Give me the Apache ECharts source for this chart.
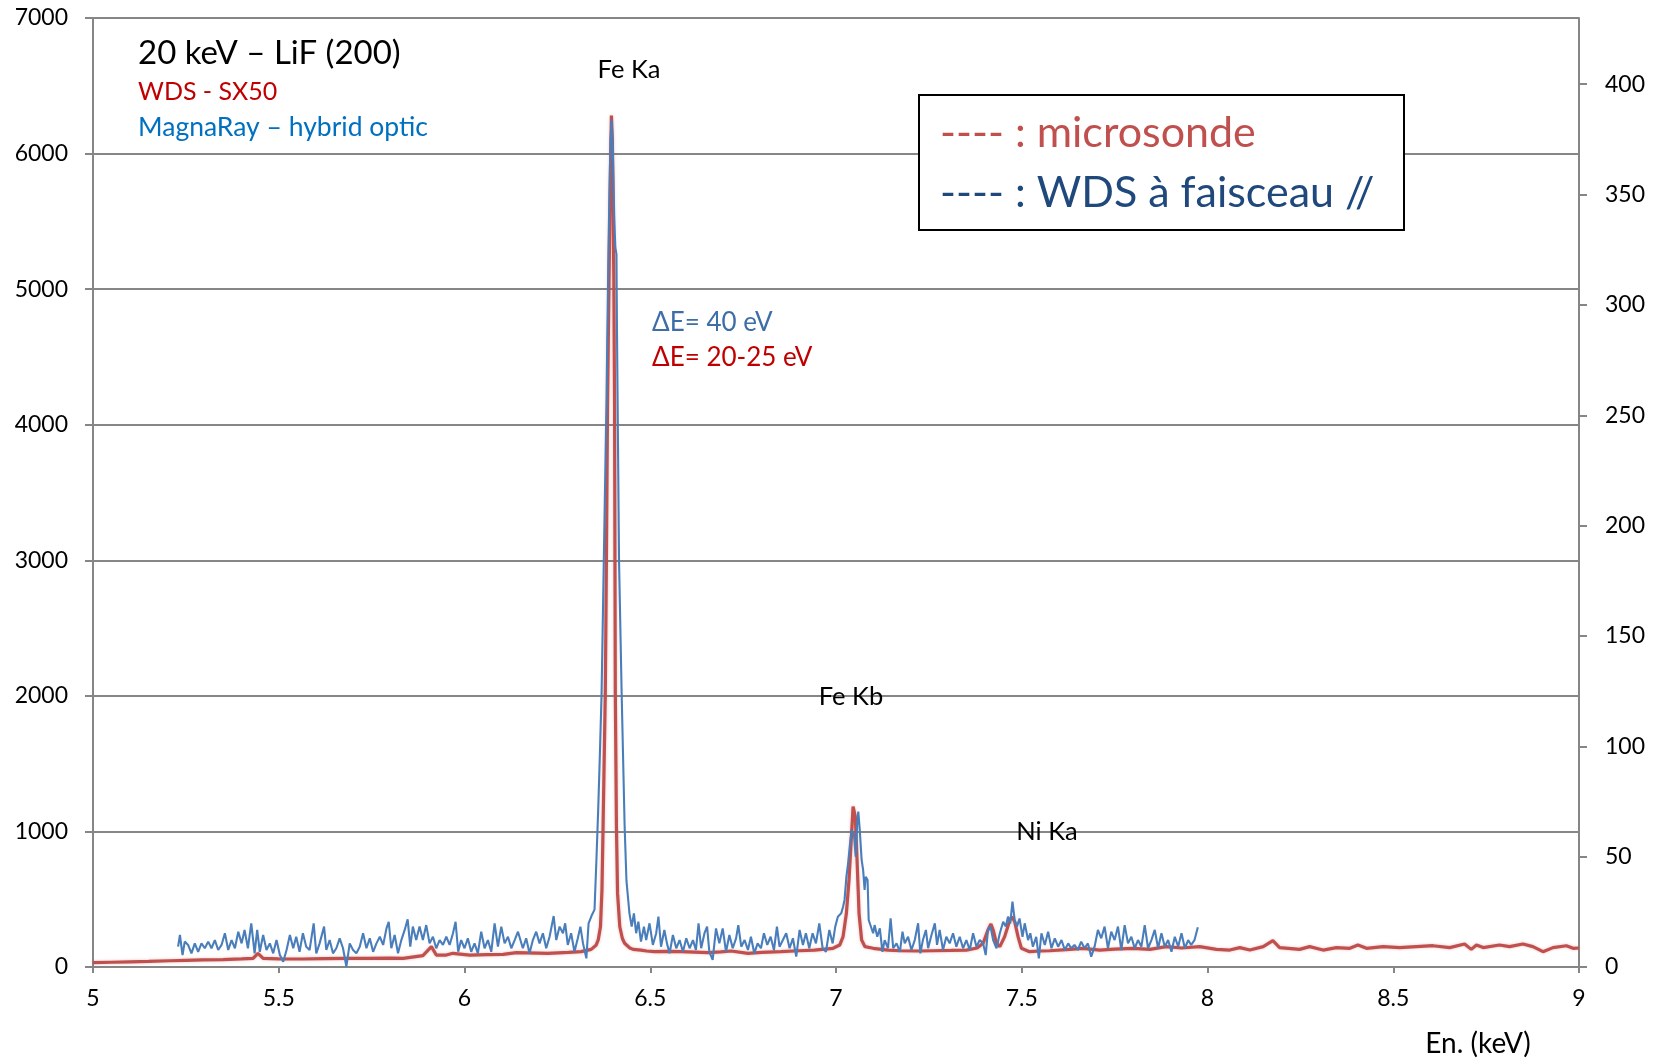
<!DOCTYPE html>
<html><head><meta charset="utf-8">
<script src="https://cdn.jsdelivr.net/npm/echarts@6/dist/echarts.min.js"></script>
<style>html,body{margin:0;padding:0;background:#fff}#c{width:1661px;height:1062px}</style>
</head><body><div id="c"></div>
<script>
// WDS - SX50 (microsonde), left axis counts
const redE = [5.00,5.05,5.10,5.15,5.207,5.25,5.296,5.35,5.40,5.431,5.444,5.458,5.50,5.565,5.62,5.682,5.74,5.80,5.835,5.888,5.911,5.924,5.951,5.969,6.014,6.06,6.104,6.140,6.224,6.28,6.314,6.341,6.354,6.360,6.366,6.370,6.373,6.379,6.382,6.385,6.389,6.393,6.3955,6.398,6.400,6.402,6.404,6.405,6.406,6.409,6.412,6.418,6.425,6.431,6.445,6.454,6.475,6.49,6.511,6.55,6.583,6.62,6.655,6.69,6.718,6.763,6.80,6.852,6.90,6.942,6.992,7.010,7.019,7.028,7.035,7.042,7.046,7.049,7.052,7.057,7.062,7.069,7.078,7.100,7.14,7.172,7.22,7.261,7.31,7.351,7.38,7.396,7.409,7.417,7.423,7.432,7.441,7.454,7.468,7.474,7.481,7.490,7.499,7.521,7.55,7.575,7.62,7.665,7.710,7.75,7.800,7.845,7.889,7.93,7.979,8.024,8.060,8.087,8.114,8.150,8.176,8.194,8.248,8.275,8.311,8.347,8.383,8.405,8.428,8.473,8.517,8.562,8.607,8.652,8.692,8.710,8.724,8.742,8.786,8.813,8.849,8.876,8.903,8.930,8.966,8.984,9.000];
const redV = [32,35,38,41,46,49,52,55,60,64,101,64,60,59,62,64,63,65,64,84,150,88,88,101,88,92,93,106,101,108,113,130,160,200,297,568,1035,2019,3002,4133,5067,5900,6280,6100,5600,5067,4133,3002,2019,1035,543,297,210,175,140,130,125,118,113,115,113,110,106,112,118,101,108,113,120,125,138,162,224,396,642,986,1183,1195,1109,765,396,199,150,138,125,120,118,120,122,125,140,175,273,317,273,175,150,224,347,371,334,224,138,113,118,120,128,138,125,132,138,130,150,140,150,130,125,143,125,150,194,143,130,150,125,143,138,162,138,150,143,150,157,143,170,130,162,143,162,150,170,150,113,143,157,138,140];

// MagnaRay - hybrid optic (WDS à faisceau //), right axis counts
const blueE = [5.229,5.234,5.241,5.247,5.256,5.265,5.274,5.283,5.292,5.301,5.310,5.319,5.328,5.337,5.346,5.355,5.364,5.373,5.382,5.391,5.400,5.408,5.417,5.426,5.435,5.442,5.449,5.458,5.467,5.476,5.485,5.494,5.503,5.512,5.521,5.530,5.539,5.547,5.556,5.565,5.574,5.583,5.594,5.601,5.610,5.622,5.628,5.637,5.646,5.655,5.664,5.673,5.682,5.691,5.700,5.709,5.718,5.727,5.736,5.745,5.754,5.763,5.772,5.781,5.790,5.796,5.803,5.812,5.821,5.830,5.839,5.847,5.854,5.861,5.870,5.879,5.888,5.897,5.906,5.915,5.924,5.933,5.942,5.951,5.960,5.969,5.976,5.983,5.991,6.000,6.009,6.018,6.027,6.036,6.045,6.054,6.063,6.072,6.081,6.090,6.099,6.108,6.117,6.126,6.135,6.144,
6.148,6.157,6.166,6.175,6.184,6.193,6.202,6.211,6.220,6.229,6.240,6.247,6.256,6.265,6.271,6.278,6.287,6.296,6.305,6.312,6.319,6.328,6.334,6.343,6.350,
6.355,6.360,6.364,6.369,6.375,6.382,6.388,6.393,6.396,6.399,6.403,6.406,6.409,6.4105,6.413,6.416,6.423,6.431,6.436,6.444,
6.450,6.456,6.462,6.468,6.475,6.483,6.489,6.498,6.507,6.516,6.522,6.529,6.538,6.545,6.552,6.561,6.570,6.579,6.588,6.597,6.606,6.615,6.623,6.630,6.637,6.646,6.653,6.659,6.668,6.677,6.686,6.695,6.704,6.713,6.722,6.731,6.737,6.745,6.754,6.763,6.771,6.780,6.789,6.798,6.806,6.815,6.824,6.833,6.841,6.848,6.857,6.866,6.875,6.884,6.893,6.902,6.911,6.919,6.928,6.937,6.946,6.955,6.964,6.973,6.982,6.991,6.998,7.005,7.014,7.019,7.023,7.028,7.032,7.037,7.042,7.048,7.053,7.057,7.060,7.064,7.069,7.073,7.077,7.080,7.085,7.088,7.093,7.100,7.104,7.111,7.118,
7.125,7.131,7.140,7.147,7.154,7.163,7.172,7.179,7.185,7.194,7.203,7.212,7.221,7.227,7.234,7.242,7.248,7.257,7.266,7.272,7.279,7.288,7.297,7.306,7.315,7.324,7.333,7.342,7.351,7.360,7.369,7.378,7.387,7.396,7.403,7.409,7.416,7.423,7.432,7.441,7.450,7.457,7.463,7.469,7.475,7.481,7.487,7.494,7.502,7.508,7.517,7.523,7.530,7.539,7.546,7.553,7.562,7.571,7.580,7.589,7.598,7.607,7.616,7.625,7.633,7.642,7.651,7.660,7.669,7.678,7.687,7.696,7.705,7.714,7.723,7.732,7.741,7.750,7.759,7.768,7.777,7.786,7.795,7.804,7.813,7.822,7.831,7.840,7.849,7.858,7.867,7.876,7.885,7.894,7.903,7.912,7.921,7.930,7.939,7.948,7.956,7.965,7.974];
const blueV = [9.2,14.5,5.4,11.5,10.0,6.2,10.7,6.9,10.7,8.5,11.5,8.5,12.2,7.7,10.0,15.3,7.7,12.2,8.5,16.0,10.7,16.8,8.5,19.8,6.2,16.8,6.9,14.5,7.7,10.7,6.2,12.2,5.4,2.4,7.7,14.5,8.5,13.7,6.9,15.3,9.2,7.7,19.8,6.2,10.7,18.3,7.7,12.2,6.2,8.5,13.0,8.5,0.2,10.7,7.7,6.2,9.2,15.3,8.5,13.0,6.9,10.7,13.7,10.0,17.5,20.5,8.5,14.5,6.2,12.2,16.8,21.6,9.2,18.3,12.2,18.3,12.2,19.0,10.7,13.7,8.5,12.2,10.0,13.7,10.0,15.3,20.5,6.9,12.2,8.5,13.0,6.9,10.7,6.2,16.0,8.5,12.2,6.9,19.8,9.2,18.3,10.7,13.7,8.5,12.2,16.0,
16.8,8.5,13.0,6.2,12.2,16.0,10.7,15.3,8.5,13.7,23.1,12.2,18.3,15.3,19.8,10.0,15.3,6.9,13.0,18.3,10.7,3.9,19.8,23.6,26,
48,72,94,124,184,254,330,375,384,372,340,326,323,287,240,184,124,64,39,24.3,
18.3,24.3,15.3,20.5,11.5,18.3,12.2,19.8,10.0,15.3,22.8,9.2,16.8,10.7,6.2,14.5,8.5,12.2,6.9,13.0,8.5,12.2,7.7,19.8,8.5,15.3,18.3,6.9,3.2,17.5,10.7,17.5,6.9,14.5,8.5,13.0,19.0,9.2,12.2,7.7,13.7,6.2,10.7,8.5,15.3,10.0,13.7,7.7,18.3,9.2,12.2,15.3,8.5,13.0,4.7,16.8,10.0,15.3,8.5,15.3,10.7,19.8,8.5,6.9,16.8,10.7,18.3,22.8,24.3,27.3,30.4,40.9,46,54.5,62,60.6,50,65,70.4,62,48.5,44,34.9,40.9,39.4,21.3,22,15.3,19.0,13.7,17.5,
6.9,12.2,8.5,22.0,8.5,10.7,6.9,16.0,10.7,13.7,7.7,12.2,19.8,6.2,12.2,16.8,8.5,14.5,19.8,10.0,16.8,7.7,13.7,10.7,15.3,9.2,13.7,8.5,12.2,7.7,15.3,9.2,12.2,10.7,5.4,16.8,18.3,12.2,8.5,15.3,20.5,18.3,22.8,19.8,29.6,21.3,18.3,22.0,13.7,19.8,12.2,15.3,9.2,13.7,3.9,15.3,10.0,16.0,8.5,13.0,9.2,12.2,7.7,10.7,8.5,10.0,7.7,11.5,8.5,10.7,4.7,9.2,16.8,13.0,18.3,8.5,16.0,12.2,18.3,7.7,19.0,10.7,13.7,8.5,12.2,9.2,19.0,8.5,12.2,16.8,8.5,15.3,9.2,12.2,6.9,13.7,9.2,15.3,8.5,12.2,10.0,12.2,18.0];

const leftTicks = {min: 0, max: 7000, step: 1000};
const rightTicks = {min: 0, max: 430, step: 50};
const xTicks = {min: 5, max: 9, step: 0.5};

const FONT = 'Lato, "Open Sans", sans-serif';
const GRAY = '#868686';
const plain = v => String(v);

const chart = echarts.init(document.getElementById('c'), null, {renderer: 'canvas'});
chart.setOption({
  animation: false,
  backgroundColor: '#fff',
  grid: {left: 93, right: 82, top: 18, bottom: 95},
  xAxis: {
    type: 'value', min: xTicks.min, max: xTicks.max, interval: xTicks.step,
    axisLine: {show: true, onZero: false, lineStyle: {color: GRAY, width: 2}},
    axisTick: {show: true, length: 6, lineStyle: {color: GRAY, width: 2}},
    axisLabel: {fontSize: 23, color: '#000', margin: 20, fontFamily: FONT, formatter: plain},
    splitLine: {show: false}
  },
  yAxis: [{
    type: 'value', position: 'left', min: leftTicks.min, max: leftTicks.max, interval: leftTicks.step,
    axisLine: {show: true, lineStyle: {color: GRAY, width: 2}},
    axisTick: {show: true, length: 8, lineStyle: {color: GRAY, width: 2}},
    axisLabel: {fontSize: 23, color: '#000', margin: 25, fontFamily: FONT, formatter: plain},
    splitLine: {show: true, lineStyle: {color: GRAY, width: 2}}
  }, {
    type: 'value', position: 'right', min: rightTicks.min, max: rightTicks.max, interval: rightTicks.step,
    axisLine: {show: true, lineStyle: {color: GRAY, width: 2}},
    axisTick: {show: true, length: 8, lineStyle: {color: GRAY, width: 2}},
    axisLabel: {fontSize: 23, color: '#000', margin: 26, fontFamily: FONT, showMaxLabel: false, formatter: plain},
    splitLine: {show: false}
  }],
  series: [{
    name: 'microsonde', type: 'line', yAxisIndex: 0,
    data: redE.map((e, i) => [e, redV[i]]),
    showSymbol: false, symbol: 'none', z: 2,
    lineStyle: {color: '#C0504D', width: 3.2, shadowColor: 'rgba(192,80,77,0.35)', shadowBlur: 3}
  }, {
    name: 'WDS à faisceau //', type: 'line', yAxisIndex: 1,
    data: blueE.map((e, i) => [e, blueV[i]]),
    showSymbol: false, symbol: 'none', z: 3,
    lineStyle: {color: '#4A7EBB', width: 2.1}
  }],
  graphic: [
    {type: 'text', x: 138, y: 53, z: 10, style: {text: '20 keV – LiF (200)', fill: '#000', font: '33px ' + FONT, textVerticalAlign: 'middle'}},
    {type: 'text', x: 138, y: 92, z: 10, style: {text: 'WDS - SX50', fill: '#C00000', font: '25px ' + FONT, textVerticalAlign: 'middle'}},
    {type: 'text', x: 138, y: 127, z: 10, style: {text: 'MagnaRay – hybrid optic', fill: '#0070C0', font: '26.5px ' + FONT, textVerticalAlign: 'middle'}},
    {type: 'text', x: 629, y: 70, z: 10, style: {text: 'Fe Ka', fill: '#000', font: '25.5px ' + FONT, textAlign: 'center', textVerticalAlign: 'middle'}},
    {type: 'text', x: 851, y: 697, z: 10, style: {text: 'Fe Kb', fill: '#000', font: '25.5px ' + FONT, textAlign: 'center', textVerticalAlign: 'middle'}},
    {type: 'text', x: 1047, y: 832, z: 10, style: {text: 'Ni Ka', fill: '#000', font: '25.5px ' + FONT, textAlign: 'center', textVerticalAlign: 'middle'}},
    {type: 'text', x: 652, y: 323, z: 10, style: {text: 'ΔE= 40 eV', fill: '#3E6EA8', font: '26px ' + FONT, textVerticalAlign: 'middle'}},
    {type: 'text', x: 652, y: 358, z: 10, style: {text: 'ΔE= 20-25 eV', fill: '#C00000', font: '26px ' + FONT, textVerticalAlign: 'middle'}},
    {type: 'text', x: 1478, y: 1044, z: 10, style: {text: 'En. (keV)', fill: '#000', font: '28px ' + FONT, textAlign: 'center', textVerticalAlign: 'middle'}},
    {type: 'rect', z: 10, shape: {x: 919, y: 95, width: 485, height: 135}, style: {fill: '#fff', stroke: '#000', lineWidth: 2}},
    {type: 'text', x: 940, y: 133, z: 11, style: {text: '---- : microsonde', fill: '#C0504D', font: '43px ' + FONT, textVerticalAlign: 'middle'}},
    {type: 'text', x: 940, y: 193, z: 11, style: {text: '---- : WDS à faisceau //', fill: '#1F497D', font: '43px ' + FONT, textVerticalAlign: 'middle'}}
  ]
});
</script>
</body></html>
